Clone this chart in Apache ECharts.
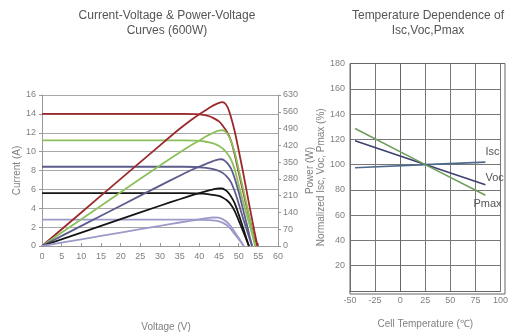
<!DOCTYPE html>
<html><head><meta charset="utf-8">
<script src="https://cdn.jsdelivr.net/npm/echarts@6/dist/echarts.min.js"></script>
<style>html,body{margin:0;padding:0;background:#fff}#c{width:511px;height:334px}</style>
</head><body><div id="c"></div>
<script>
// ---- I-V / P-V curves (voltage V, current A / power W) ----
const irradiance = ['1000', '800', '600', '400', '200'];
const iv1000 = [[0,14],[20,14],[36,14],[39,13.97],[41,13.9],[42.5,13.75],[43.6,13.55],[45,13.2],[46,12.72],[47,12.1],[48,11.2],[49,9.7],[50,7.8],[51,6.0],[52,4.2],[53,2.5],[54,0.9],[54.8,0]];
const pv1000 = [[0,0],[10,140],[20,280],[30,420],[35,489],[38,527],[40,550],[42,571],[43,581],[44,590],[45,597],[45.7,600],[46.4,597],[47.2,578],[48,540],[49,478],[50,400],[51,318],[52,232],[53,145],[54,62],[54.8,0]];
const iv800 = [[0,11.2],[20,11.2],[36,11.2],[39,11.17],[41,11.1],[42.5,10.98],[44,10.8],[45,10.6],[46,10.3],[47,9.85],[48,9.2],[49,8.1],[50,6.5],[51,4.9],[52,3.4],[53,1.9],[53.7,0.8],[54.2,0]];
const pv800 = [[0,0],[10,112],[20,224],[30,336],[35,390],[38,421],[40,440],[42,460],[43,468],[44,476],[45,481],[45.8,483],[46.5,479],[47.2,466],[48,440],[49,390],[50,320],[51,248],[52,175],[53,95],[53.7,42],[54.2,0]];
const iv600 = [[0,8.4],[20,8.4],[36,8.4],[39,8.37],[41,8.31],[42.5,8.22],[44,8.08],[45,7.95],[46,7.72],[47,7.35],[48,6.8],[49,5.8],[50,4.5],[51,3.1],[52,1.8],[52.8,0.75],[53.4,0]];
const pv600 = [[0,0],[10,84],[20,168],[30,252],[35,293],[38,317],[40,331],[42,345],[43,351],[44,357],[45,361],[45.6,362],[46.3,358],[47,348],[48,325],[49,282],[50,225],[51,160],[52,95],[52.8,40],[53.4,0]];
const iv400 = [[0,5.6],[20,5.6],[36,5.6],[39,5.58],[41,5.54],[42.5,5.47],[44,5.38],[45,5.3],[46,5.12],[47,4.85],[48,4.4],[49,3.7],[50,2.7],[51,1.7],[52,0.65],[52.6,0]];
const pv400 = [[0,0],[10,56],[20,112],[30,168],[35,195],[38,211],[40,221],[42,230],[43,234],[44,238],[45,240],[45.7,240],[46.5,235],[47.3,224],[48,208],[49,178],[50,132],[51,82],[52,30],[52.6,0]];
const iv200 = [[0,2.8],[20,2.8],[36,2.8],[39,2.79],[41,2.77],[42.5,2.74],[44,2.68],[45,2.6],[46,2.45],[47,2.2],[48,1.78],[49,1.25],[50,0.72],[50.8,0.28],[51.3,0]];
const pv200 = [[0,0],[10,28],[20,56],[30,84],[35,98],[38,106],[40,111],[42,116],[43.5,119],[44.8,118],[46,111],[47,100],[48,82],[49,58],[50,34],[50.8,13],[51.3,0]];

// ---- temperature dependence (cell temperature, %) ----
const tempNames = ['Isc', 'Voc', 'Pmax'];
const iscT = [[-45,97.5],[25,100],[85,102]];
const vocT = [[-45,118.8],[25,100],[85,84]];
const pmaxT = [[-45,128.6],[25,100],[85,75.8]];

const ivSets = [iv1000, iv800, iv600, iv400, iv200];
const pvSets = [pv1000, pv800, pv600, pv400, pv200];
const colors = ['#9c2a2c', '#8cc05c', '#5d5b8c', '#151515', '#9c9ac8'];

const chart = echarts.init(document.getElementById('c'), null, {renderer: 'canvas'});
const FONT = 'Liberation Sans';
const lbl = {color: '#808080', fontSize: 9, fontFamily: FONT};
const nameStyle = {color: '#808080', fontSize: 10, fontFamily: FONT};

const series = [];
ivSets.forEach((d, i) => series.push({
  name: 'I ' + irradiance[i], type: 'line', xAxisIndex: 0, yAxisIndex: 0, data: d,
  symbol: 'none', smooth: 0.3, lineStyle: {color: colors[i], width: 1.8}, silent: true
}));
pvSets.forEach((d, i) => series.push({
  name: 'P ' + irradiance[i], type: 'line', xAxisIndex: 0, yAxisIndex: 1, data: d,
  symbol: 'none', smooth: 0.3, lineStyle: {color: colors[i], width: 1.8}, silent: true
}));
const tSets = [iscT, vocT, pmaxT];
const tColors = ['#4d6a8c', '#3d3f6c', '#6f9e5c'];
const tOffsets = [[-8, -10], [-8, -7], [-20, 9]];
tSets.forEach((d, i) => series.push({
  name: tempNames[i], type: 'line', xAxisIndex: 1, yAxisIndex: 2, data: d,
  symbol: 'none', lineStyle: {color: tColors[i], width: 1.6}, silent: true,
  endLabel: {show: true, formatter: '{a}', offset: tOffsets[i], color: '#555', fontSize: 11, fontFamily: FONT}
}));

chart.setOption({
  animation: false,
  backgroundColor: '#fff',
  grid: [
    {left: 42, right: 233, top: 95, bottom: 88},
    {left: 350, right: 6, top: 63.5, bottom: 40}
  ],
  xAxis: [
    {type: 'value', gridIndex: 0, min: 0, max: 60, interval: 5,
     name: 'Voltage (V)', nameLocation: 'middle', nameGap: 76, nameTextStyle: Object.assign({padding: [0, 0, 0, 12]}, nameStyle),
     axisLine: {lineStyle: {color: '#999'}}, axisTick: {inside: true, length: 3, lineStyle: {color: '#999'}},
     axisLabel: Object.assign({margin: 6}, lbl), splitLine: {show: false}},
    {type: 'value', gridIndex: 1, min: -50, max: 100, interval: 25,
     name: 'Cell Temperature (℃)', nameLocation: 'middle', nameGap: 28, nameTextStyle: nameStyle,
     axisLine: {lineStyle: {color: '#666'}}, axisTick: {show: false},
     axisLabel: Object.assign({margin: 5}, lbl), splitLine: {show: true, lineStyle: {color: '#777', width: 1}}}
  ],
  yAxis: [
    {type: 'value', gridIndex: 0, min: 0, max: 16, interval: 2, position: 'left',
     name: 'Current (A)', nameLocation: 'middle', nameGap: 20, nameTextStyle: nameStyle,
     axisLine: {show: true, lineStyle: {color: '#999'}}, axisTick: {show: true, length: 3, lineStyle: {color: '#999'}},
     axisLabel: Object.assign({margin: 6}, lbl), splitLine: {show: true, lineStyle: {color: '#a8a8a8', width: 1}}},
    {type: 'value', gridIndex: 0, min: 0, max: 630, interval: 70, position: 'right',
     name: 'Power (W)', nameLocation: 'middle', nameGap: 27, nameTextStyle: nameStyle,
     axisLine: {show: true, lineStyle: {color: '#999'}}, axisTick: {show: true, length: 3, lineStyle: {color: '#999'}},
     axisLabel: Object.assign({margin: 5}, lbl), splitLine: {show: false}},
    {type: 'value', gridIndex: 1, min: 0, max: 180, interval: 20,
     name: 'Normalized Isc, Voc, Pmax (%)', nameLocation: 'middle', nameGap: 21, nameTextStyle: nameStyle,
     axisLine: {show: true, lineStyle: {color: '#666'}}, axisTick: {show: false},
     axisLabel: Object.assign({margin: 5, formatter: v => v === 0 ? '' : v}, lbl),
     splitLine: {show: true, lineStyle: {color: '#777', width: 1}}}
  ],
  graphic: [
    {type: 'text', x: 167, y: 8, silent: true,
     style: {text: 'Current-Voltage & Power-Voltage\nCurves (600W)', textAlign: 'center', textVerticalAlign: 'top',
             fill: '#555', fontSize: 12, fontFamily: FONT, lineHeight: 15}},
    {type: 'text', x: 428, y: 8, silent: true,
     style: {text: 'Temperature Dependence of\nIsc,Voc,Pmax', textAlign: 'center', textVerticalAlign: 'top',
             fill: '#555', fontSize: 12, fontFamily: FONT, lineHeight: 15}},
    {type: 'rect', shape: {x: 350, y: 63.5, width: 155, height: 230.5}, style: {fill: 'none', stroke: '#666', lineWidth: 1}, silent: true, z: 1}
  ],
  series: series
});
</script></body></html>
